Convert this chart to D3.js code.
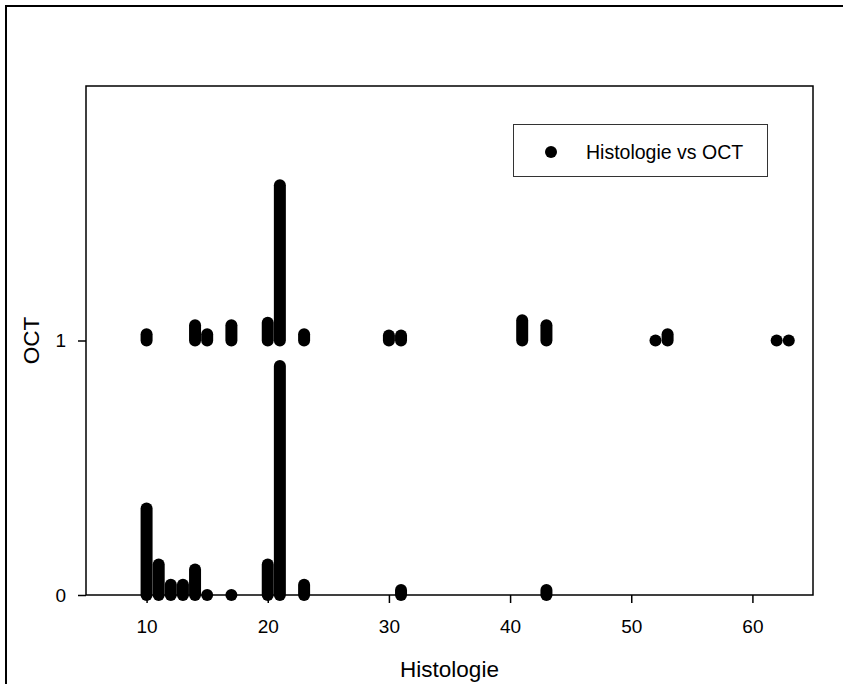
<!DOCTYPE html>
<html>
<head>
<meta charset="utf-8">
<script src="https://cdn.jsdelivr.net/npm/d3@7"></script>
<style>
body { margin: 0; background: #fff; }
svg text { font-family: "Liberation Sans", Arial, sans-serif; fill: #000; }
</style>
</head>
<body>
<svg id="chart" width="843" height="684"></svg>
<script>
// Histologie values of each stack of overlapping dots
var histo = [10, 11, 12, 13, 14, 15, 17, 20, 21, 23, 31, 43,
             10, 14, 15, 17, 20, 21, 23, 30, 31, 41, 43, 52, 53, 62, 63];
// lowest OCT value of the stack
var octLow = [0, 0, 0, 0, 0, 0, 0, 0, 0, 0, 0, 0,
              1, 1, 1, 1, 1, 1, 1, 1, 1, 1, 1, 1, 1, 1, 1];
// highest (stacked) OCT value reached
var octHigh = [0.34, 0.12, 0.04, 0.04, 0.10, 0, 0, 0.12, 0.90, 0.04, 0.02, 0.02,
               1.025, 1.06, 1.025, 1.06, 1.07, 1.61, 1.025, 1.02, 1.02, 1.08, 1.06, 1, 1.025, 1, 1];

var xTicks = [10, 20, 30, 40, 50, 60];
var yTicks = [0, 1];
var legendLabel = "Histologie vs OCT";

var svg = d3.select("#chart");

// plot area edges (note: "top" is taken by window.top)
var plotLeft = 86, plotRight = 813, plotTop = 86, plotBottom = 595;
var r = 6;

var x = d3.scaleLinear().domain([5, 65]).range([plotLeft, plotRight]);
var y = d3.scaleLinear().domain([0, 2]).range([plotBottom, plotTop]);

// outer page frame (runs off the right and bottom edges)
svg.append("rect")
    .attr("x", 6).attr("y", 6)
    .attr("width", 900).attr("height", 800)
    .attr("fill", "none")
    .attr("stroke", "black")
    .attr("stroke-width", 2);

// plot frame
svg.append("rect")
    .attr("x", plotLeft).attr("y", plotTop)
    .attr("width", plotRight - plotLeft).attr("height", plotBottom - plotTop)
    .attr("fill", "none")
    .attr("stroke", "black")
    .attr("stroke-width", 1.5);

var xAxis = svg.append("g")
    .attr("transform", "translate(0," + plotBottom + ")")
    .call(d3.axisBottom(x).tickValues(xTicks).tickSize(8).tickPadding(17).tickSizeOuter(0));
xAxis.select(".domain").remove();
xAxis.selectAll("line").attr("stroke-width", 1.5);
xAxis.selectAll("text").style("font-size", "19px");

var yAxis = svg.append("g")
    .attr("transform", "translate(" + plotLeft + ",0)")
    .call(d3.axisLeft(y).tickValues(yTicks).tickFormat(d3.format("d")).tickSize(8).tickPadding(12).tickSizeOuter(0));
yAxis.select(".domain").remove();
yAxis.selectAll("line").attr("stroke-width", 1.5);
yAxis.selectAll("text").style("font-size", "19px");

// axis titles
svg.append("text")
    .attr("x", (plotLeft + plotRight) / 2)
    .attr("y", 677)
    .attr("text-anchor", "middle")
    .style("font-size", "22.5px")
    .text("Histologie");

svg.append("text")
    .attr("transform", "translate(39," + (plotTop + plotBottom) / 2 + ") rotate(-90)")
    .attr("text-anchor", "middle")
    .style("font-size", "22.5px")
    .text("OCT");

// stacks of dots, drawn as capsules from low to high
svg.append("g").selectAll("rect")
    .data(d3.range(histo.length))
    .enter().append("rect")
    .attr("x", function(i) { return x(histo[i]) - r; })
    .attr("y", function(i) { return y(octHigh[i]) - r; })
    .attr("width", 2 * r)
    .attr("height", function(i) { return y(octLow[i]) - y(octHigh[i]) + 2 * r; })
    .attr("rx", r)
    .attr("ry", r)
    .attr("fill", "black");

// legend
var legend = svg.append("g");
legend.append("rect")
    .attr("x", 513.5).attr("y", 124.5)
    .attr("width", 254).attr("height", 52)
    .attr("fill", "white")
    .attr("stroke", "#333")
    .attr("stroke-width", 1);
legend.append("circle")
    .attr("cx", 551).attr("cy", 152)
    .attr("r", r)
    .attr("fill", "black");
legend.append("text")
    .attr("x", 586).attr("y", 158.5)
    .style("font-size", "19.5px")
    .text(legendLabel);
</script>
</body>
</html>
